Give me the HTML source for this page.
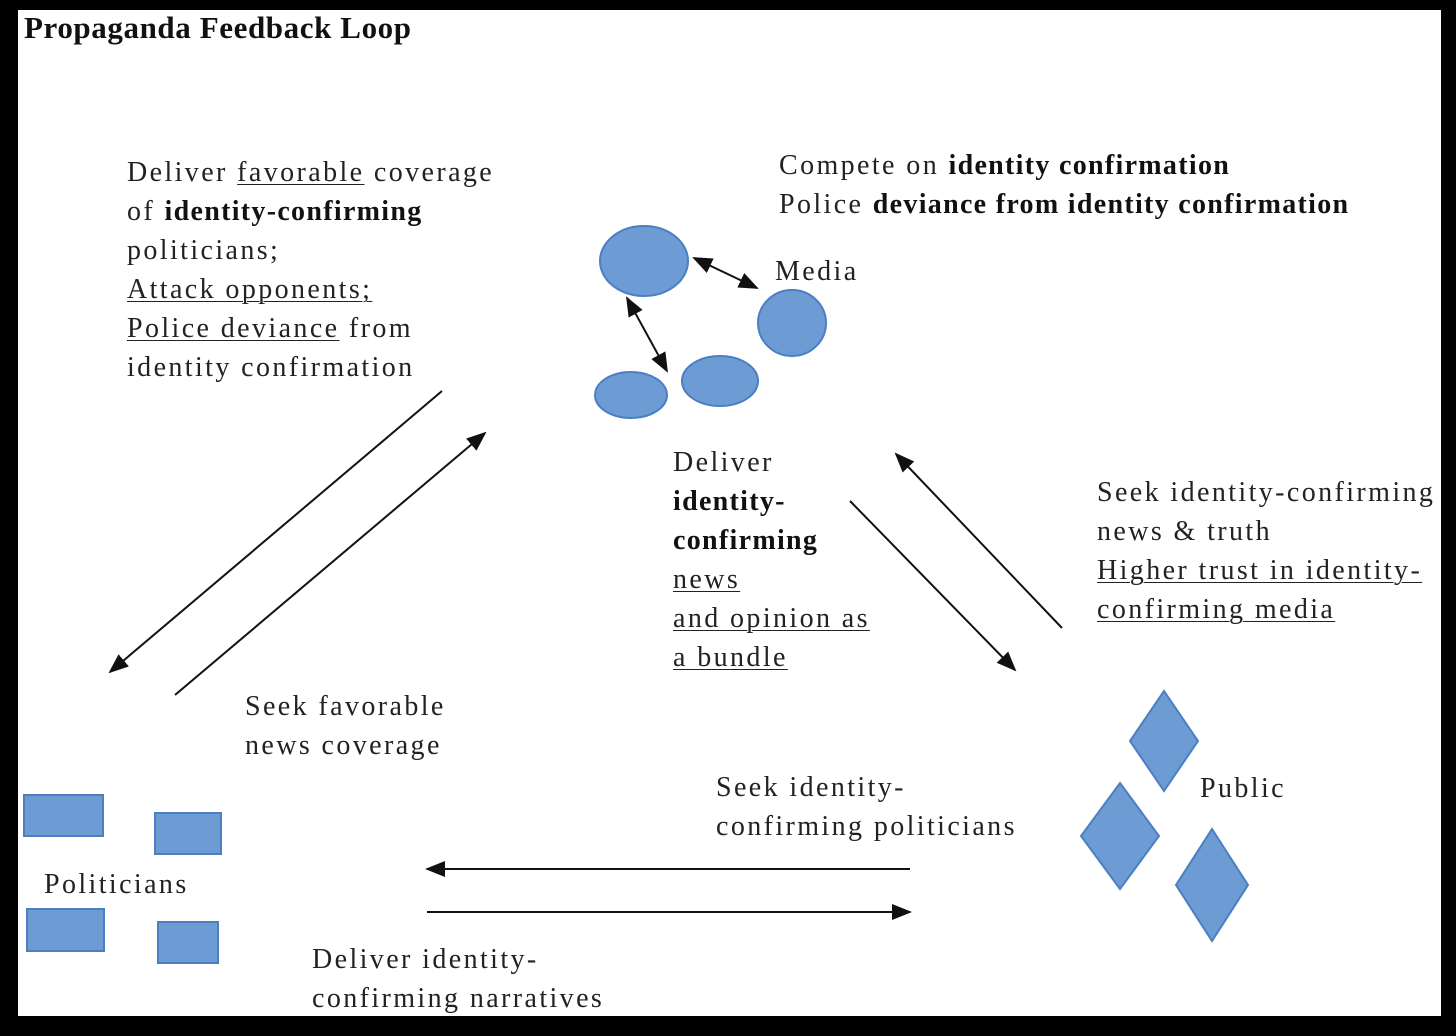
<!DOCTYPE html>
<html><head><style>
body{margin:0;width:1456px;height:1036px;background:#000;position:relative;overflow:hidden;font-family:"Liberation Serif",serif;}
#w{position:absolute;left:18px;top:10px;width:1423px;height:1006px;background:#fff;}
.t{position:absolute;font-size:28px;line-height:39px;color:#222;letter-spacing:2.4px;white-space:nowrap;}
u{text-decoration:underline;text-underline-offset:3px;text-decoration-thickness:1px}
b{color:#111;letter-spacing:1.3px}
</style></head><body>
<div id="w"></div>
<div class="t" style="left:24px;top:8px;font-size:31px;letter-spacing:0.6px;color:#111;font-weight:bold;line-height:40px">Propaganda Feedback Loop</div>
<div class="t" style="left:127px;top:153px">Deliver <u>favorable</u> coverage<br>of <b>identity-confirming</b><br>politicians;<br><u>Attack opponents;</u><br><u>Police deviance</u> from<br>identity confirmation</div>
<div class="t" style="left:779px;top:146px">Compete on <b>identity confirmation</b><br>Police <b>deviance from identity confirmation</b></div>
<div class="t" style="left:775px;top:252px">Media</div>
<div class="t" style="left:673px;top:443px">Deliver<br><b>identity-<br>confirming</b><br><u>news</u><br><u>and opinion as</u><br><u>a bundle</u></div>
<div class="t" style="left:1097px;top:473px">Seek identity-confirming<br>news &amp; truth<br><u>Higher trust in identity-</u><br><u>confirming media</u></div>
<div class="t" style="left:245px;top:687px">Seek favorable<br>news coverage</div>
<div class="t" style="left:716px;top:768px">Seek identity-<br>confirming politicians</div>
<div class="t" style="left:1200px;top:769px">Public</div>
<div class="t" style="left:44px;top:865px">Politicians</div>
<div class="t" style="left:312px;top:940px">Deliver identity-<br>confirming narratives</div>
<svg width="1456" height="1036" style="position:absolute;left:0;top:0">
<defs>
<marker id="b" markerWidth="20" markerHeight="20" refX="18" refY="8" orient="auto-start-reverse" markerUnits="userSpaceOnUse" viewBox="0 0 20 16"><path d="M0,0L20,8L0,16z" fill="#111"/></marker></defs>
<g fill="#6d9bd3" stroke="#4b7fc2" stroke-width="2">
<ellipse cx="644" cy="261" rx="44" ry="35"/><ellipse cx="792" cy="323" rx="34" ry="33"/>
<ellipse cx="631" cy="395" rx="36" ry="23"/><ellipse cx="720" cy="381" rx="38" ry="25"/>
<rect x="24" y="795" width="79" height="41"/><rect x="155" y="813" width="66" height="41"/>
<rect x="27" y="909" width="77" height="42"/><rect x="158" y="922" width="60" height="41"/>
<path d="M1164,691L1198,741L1164,791L1130,741z"/><path d="M1120,783L1159,836L1120,889L1081,836z"/><path d="M1212,829L1248,885L1212,941L1176,885z"/>
</g>
<g stroke="#111" stroke-width="2" fill="none">
<line x1="694" y1="258" x2="757" y2="288" marker-start="url(#b)" marker-end="url(#b)"/>
<line x1="627" y1="298" x2="667" y2="371" marker-start="url(#b)" marker-end="url(#b)"/>
<line x1="442" y1="391" x2="110" y2="672" marker-end="url(#b)"/>
<line x1="175" y1="695" x2="485" y2="433" marker-end="url(#b)"/>
<line x1="850" y1="501" x2="1015" y2="670" marker-end="url(#b)"/>
<line x1="1062" y1="628" x2="896" y2="454" marker-end="url(#b)"/>
<line x1="910" y1="869" x2="427" y2="869" marker-end="url(#b)"/>
<line x1="427" y1="912" x2="910" y2="912" marker-end="url(#b)"/>
</g>
</svg>
</body></html>
